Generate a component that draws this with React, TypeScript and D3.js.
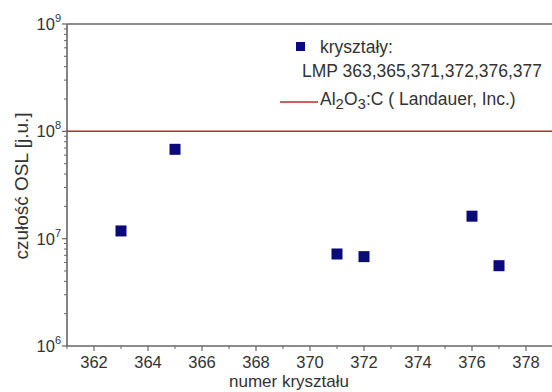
import React from "react";
import * as d3 from "d3";

const crystals = [363, 365, 371, 372, 376, 377];
const sensitivity = [1.18e7, 6.8e7, 7.2e6, 6.8e6, 1.62e7, 5.6e6];
const referenceValue = 1e8;
const xTicks = [362, 364, 366, 368, 370, 372, 374, 376, 378];
const yTicks = [1e6, 1e7, 1e8, 1e9];
const legendLabels = ["kryształy:", "LMP 363,365,371,372,376,377"];

const W = 552, H = 392;
const M = { left: 67, top: 24, right: 0, bottom: 46 };

export default function App() {
  const x = d3.scaleLinear().domain([361, 379]).range([M.left, M.left + 18 * 27]);
  const y = d3.scaleLog().domain([1e6, 1e9]).range([346, 24]);
  const axisColor = "#666";
  const textColor = "#333";
  const font = "'Liberation Sans', Arial, sans-serif";
  const minorX = d3.range(361, 380).filter((v) => v % 2 === 1);
  const minorY: number[] = [];
  for (let e = 6; e < 9; e++) for (let m = 2; m <= 9; m++) minorY.push(m * Math.pow(10, e));
  const sq = 11;
  return (
    <svg width={W} height={H} style={{ position: "absolute", left: 0, top: 0, background: "#fff" }} fontFamily={font}>
      {/* frame */}
      <line x1={M.left} x2={W} y1={y(1e9)} y2={y(1e9)} stroke={axisColor} strokeWidth={1.6} />
      <line x1={M.left} x2={W} y1={y(1e6)} y2={y(1e6)} stroke={axisColor} strokeWidth={1.6} />
      <line x1={M.left} x2={M.left} y1={y(1e9)} y2={y(1e6)} stroke={axisColor} strokeWidth={1.6} />
      {/* x ticks */}
      {xTicks.map((t) => (
        <g key={"xt" + t}>
          <line x1={x(t)} x2={x(t)} y1={y(1e6)} y2={y(1e6) + 5} stroke={axisColor} strokeWidth={1.2} />
          <text x={x(t)} y={y(1e6) + 22} textAnchor="middle" fontSize={16.5} fill={textColor}>{t}</text>
        </g>
      ))}
      {minorX.map((t) => (
        <line key={"xm" + t} x1={x(t)} x2={x(t)} y1={y(1e6)} y2={y(1e6) + 3} stroke={axisColor} strokeWidth={1} />
      ))}
      {/* y ticks */}
      {yTicks.map((t) => (
        <g key={"yt" + t}>
          <line x1={M.left - 5} x2={M.left} y1={y(t)} y2={y(t)} stroke={axisColor} strokeWidth={1.2} />
          <text x={M.left - 6} y={y(t) + 6} textAnchor="end" fontSize={16.5} fill={textColor}>
            10<tspan dy={-8} fontSize={11}>{Math.round(Math.log10(t))}</tspan>
          </text>
        </g>
      ))}
      {minorY.map((t) => (
        <line key={"ym" + t} x1={M.left - 3} x2={M.left} y1={y(t)} y2={y(t)} stroke={axisColor} strokeWidth={1} />
      ))}
      {/* reference line */}
      <line x1={M.left} x2={W} y1={y(referenceValue)} y2={y(referenceValue)} stroke="#c0272d" strokeWidth={1.5} />
      {/* points */}
      {crystals.map((c, i) => (
        <rect key={"p" + c} x={x(c) - sq / 2} y={y(sensitivity[i]) - sq / 2} width={sq} height={sq} fill="#0a0a7a" />
      ))}
      {/* axis titles */}
      <text x={289} y={387} textAnchor="middle" fontSize={17} fill={textColor}>numer kryształu</text>
      <text transform={`translate(28,186) rotate(-90)`} textAnchor="middle" fontSize={19} fill={textColor}>czułość OSL [j.u.]</text>
      {/* legend */}
      <rect x={296} y={42} width={9} height={9} fill="#0a0a7a" />
      <text x={320} y={53} fontSize={17.5} fill={textColor}>{legendLabels[0]}</text>
      <text x={302} y={77} fontSize={17.5} fill={textColor}>{legendLabels[1]}</text>
      <line x1={280} x2={318} y1={102} y2={102} stroke="#c0272d" strokeWidth={1.5} />
      <text x={320} y={105} fontSize={17.5} fill={textColor}>
        Al<tspan dy={4} fontSize={15}>2</tspan><tspan dy={-4}>O</tspan><tspan dy={4} fontSize={15}>3</tspan><tspan dy={-4}>:C  ( Landauer, Inc.)</tspan>
      </text>
    </svg>
  );
}
